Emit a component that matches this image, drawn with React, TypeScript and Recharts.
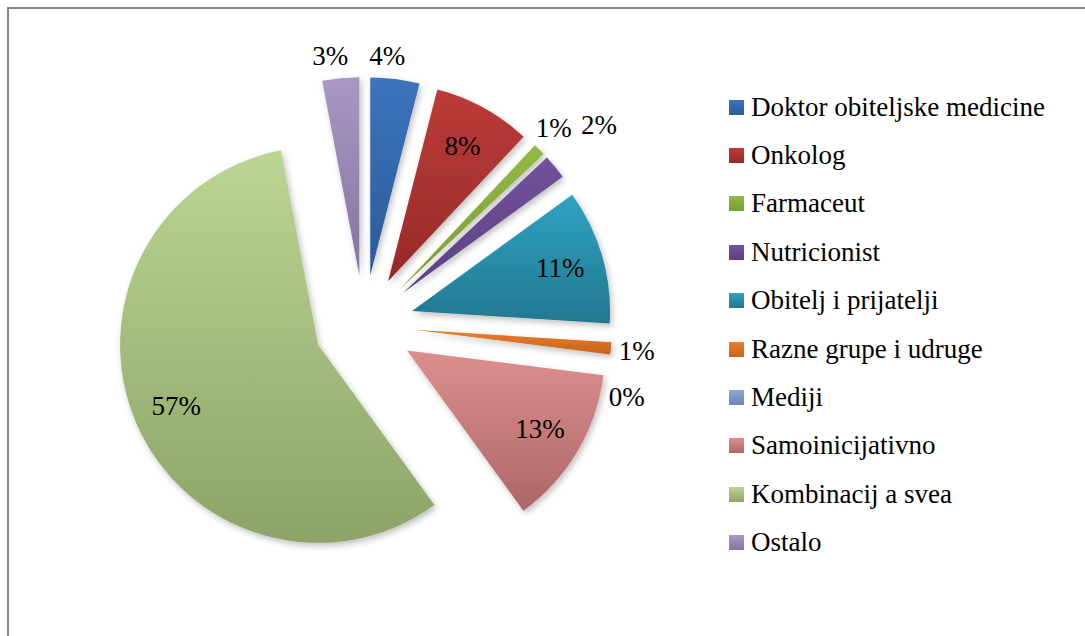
import React from 'react';
import { PieChart, Pie, Cell, Sector, Legend } from 'recharts';

const categories = [
  'Doktor obiteljske medicine',
  'Onkolog',
  'Farmaceut',
  'Nutricionist',
  'Obitelj i prijatelji',
  'Razne grupe i udruge',
  'Mediji',
  'Samoinicijativno',
  'Kombinacij a svea',
  'Ostalo',
];
const shares = [4, 8, 1, 2, 11, 1, 0, 13, 57, 3];

const topColors = ['#3b74bc', '#bd3b38', '#93ba45', '#73529d', '#30a3c1', '#ec7d2d', '#8aa9d7', '#dd8f8e', '#bbd593', '#a997c5'];
const bottomColors = ['#2b5b98', '#962a28', '#7a9b36', '#5b4181', '#22778f', '#c6641e', '#6c87b0', '#ad6767', '#8ca468', '#84749f'];

const data = categories.map((name, i) => ({ name, value: shares[i] }));

const FONT = 'Liberation Serif, Tinos, Times, DejaVu Serif, serif';
const EXPLODE = 50;
const RAD = Math.PI / 180;
// small label shifts where Excel moved labels apart
const LABEL_NUDGE: Record<number, [number, number]> = {
  0: [-11, 3],
  2: [-4, -3],
  3: [24, -25],
  6: [-9, 38],
  9: [-8, 4],
};

const ExplodedSlice = (props: any) => {
  const { cx, cy, midAngle } = props;
  const dx = EXPLODE * Math.cos(-midAngle * RAD);
  const dy = EXPLODE * Math.sin(-midAngle * RAD);
  return <Sector {...props} cx={cx + dx} cy={cy + dy} stroke="none" filter="url(#sliceShadow)" />;
};

const renderLabel = (props: any) => {
  const { cx, cy, midAngle, outerRadius, percent, index } = props;
  const big = percent >= 0.05;
  const r = big ? EXPLODE + outerRadius * 0.78 : EXPLODE + outerRadius + 26;
  const [nx, ny] = LABEL_NUDGE[index] ?? [0, 0];
  const x = cx + r * Math.cos(-midAngle * RAD) + nx;
  const y = cy + r * Math.sin(-midAngle * RAD) + ny;
  return (
    <text x={x} y={y} textAnchor="middle" dominantBaseline="central" fontFamily={FONT} fontSize={27} fill="#000">
      {`${Math.round(percent * 100)}%`}
    </text>
  );
};

const renderLegend = () => (
  <ul style={{ listStyle: 'none', margin: 0, padding: 0 }}>
    {categories.map((c, i) => (
      <li key={c} style={{ height: 48.4, display: 'flex', alignItems: 'center' }}>
        <span
          style={{
            display: 'inline-block',
            width: 15,
            height: 15,
            marginRight: 7,
            background: `linear-gradient(${topColors[i]}, ${bottomColors[i]})`,
          }}
        />
        <span style={{ fontFamily: FONT, fontSize: 27, color: '#000', whiteSpace: 'nowrap' }}>{c}</span>
      </li>
    ))}
  </ul>
);

export default function App() {
  return (
    <div
      style={{
        position: 'absolute',
        left: 7,
        top: 7,
        width: 1100,
        height: 650,
        borderTop: '2px solid #868686',
        borderLeft: '2px solid #868686',
        background: '#fff',
      }}
    >
      <PieChart width={1076} height={627} margin={{ top: 0, right: 0, bottom: 0, left: 0 }}>
        <defs>
          {categories.map((c, i) => (
            <linearGradient key={c} id={`slice${i}`} x1="0" y1="0" x2="0" y2="1">
              <stop offset="0%" stopColor={topColors[i]} />
              <stop offset="100%" stopColor={bottomColors[i]} />
            </linearGradient>
          ))}
          <filter id="sliceShadow" x="-20%" y="-20%" width="140%" height="140%">
            <feDropShadow dx="2" dy="3" stdDeviation="3" floodColor="#000" floodOpacity="0.25" />
          </filter>
        </defs>
        <Pie
          data={data}
          dataKey="value"
          nameKey="name"
          cx={355}
          cy={316}
          outerRadius={198}
          startAngle={90}
          endAngle={-270}
          shape={ExplodedSlice}
          label={renderLabel}
          labelLine={false}
          isAnimationActive={false}
        >
          {data.map((d, i) => (
            <Cell key={d.name} fill={`url(#slice${i})`} />
          ))}
        </Pie>
        <Legend content={renderLegend} wrapperStyle={{ left: 720, top: 74, width: 360 }} />
      </PieChart>
    </div>
  );
}
